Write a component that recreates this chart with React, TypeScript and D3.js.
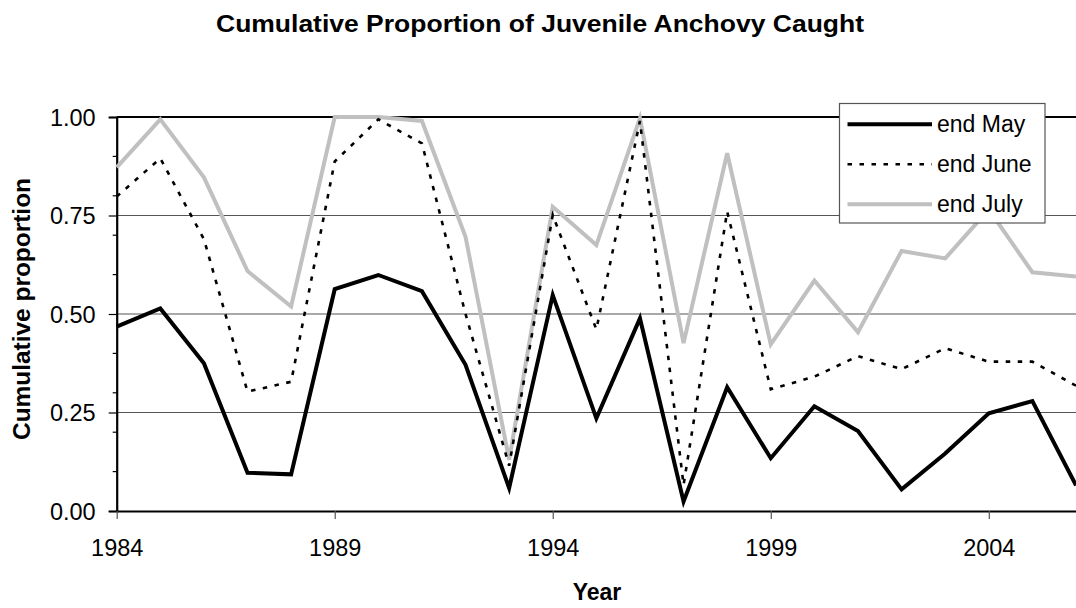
import React, { useEffect, useRef } from 'react';
import * as d3 from 'd3';

const years = d3.range(1984, 2007);

const endMay = [0.468, 0.514, 0.375, 0.097, 0.093, 0.563, 0.599, 0.558, 0.371, 0.058, 0.548, 0.235,
  0.489, 0.024, 0.314, 0.134, 0.266, 0.203, 0.055, 0.146, 0.248, 0.279, 0.065];
const endJune = [0.798, 0.895, 0.69, 0.303, 0.328, 0.887, 0.994, 0.933, 0.5, 0.115, 0.751, 0.461,
  0.99, 0.066, 0.76, 0.309, 0.341, 0.393, 0.36, 0.413, 0.379, 0.379, 0.318];
const endJuly = [0.872, 0.994, 0.847, 0.609, 0.519, 1.0, 1.0, 0.99, 0.696, 0.13, 0.772, 0.675,
  0.997, 0.426, 0.908, 0.423, 0.585, 0.454, 0.66, 0.641, 0.765, 0.606, 0.595];

const yTicks = [0, 0.25, 0.5, 0.75, 1.0];
const yMinorTicks = [0.1, 0.2, 0.3, 0.4, 0.6, 0.7, 0.8, 0.9];
const xTicks = [1984, 1989, 1994, 1999, 2004];

const seriesNames = ['end May', 'end June', 'end July'];

const App = () => {
  const svgRef = useRef<SVGSVGElement>(null);

  useEffect(() => {
    const width = 1076;
    const height = 608;
    const left = 116.7;
    const top = 117;
    const bottom = 511;
    const font = 'Arial, "Liberation Sans", sans-serif';

    const svg = d3.select(svgRef.current)
      .attr('width', width)
      .attr('height', height);
    svg.selectAll('*').remove();

    const x = d3.scaleLinear().domain([1984, 2006]).range([left, 1076]);
    const y = d3.scaleLinear().domain([0, 1]).range([bottom, top]);

    svg.append('rect').attr('width', width).attr('height', height).attr('fill', '#fff');

    // gridlines
    svg.append('g')
      .selectAll('line')
      .data(yTicks.slice(1, 4))
      .join('line')
      .attr('x1', left).attr('x2', width)
      .attr('y1', d => y(d)).attr('y2', d => y(d))
      .attr('stroke', '#555').attr('stroke-width', 1.2);

    // top border
    svg.append('line')
      .attr('x1', left).attr('x2', width)
      .attr('y1', y(1)).attr('y2', y(1))
      .attr('stroke', '#000').attr('stroke-width', 2);

    // y axis
    const yAxis = svg.append('g')
      .attr('transform', `translate(${left},0)`)
      .call(d3.axisLeft(y).tickValues(yTicks).tickFormat(d3.format('.2f')).tickSize(8).tickPadding(13));
    yAxis.select('.domain').attr('stroke-width', 2.2);
    yAxis.selectAll('line').attr('stroke-width', 1.2);
    yAxis.selectAll('text').attr('font-family', font).attr('font-size', 23.5).attr('fill', '#000').attr('dy', '0.36em');

    svg.append('g')
      .selectAll('line')
      .data(yMinorTicks)
      .join('line')
      .attr('x1', left - 4).attr('x2', left)
      .attr('y1', d => y(d)).attr('y2', d => y(d))
      .attr('stroke', '#000').attr('stroke-width', 1.2);

    // x axis
    const xAxis = svg.append('g')
      .attr('transform', `translate(0,${bottom})`)
      .call(d3.axisBottom(x).tickValues(xTicks).tickFormat(d3.format('d')).tickSize(8).tickPadding(20).tickSizeOuter(0));
    xAxis.select('.domain').attr('stroke-width', 2.2);
    xAxis.selectAll('line').attr('stroke', '#555').attr('stroke-width', 1.2);
    xAxis.selectAll('text').attr('font-family', font).attr('font-size', 23.5).attr('fill', '#000');

    const line = d3.line<number>()
      .x((_, i) => x(years[i]))
      .y(d => y(d));

    const plot = svg.append('g');
    plot.append('path').datum(endJuly).attr('d', line)
      .attr('fill', 'none').attr('stroke', '#c0c0c0').attr('stroke-width', 4);
    plot.append('path').datum(endJune).attr('d', line)
      .attr('fill', 'none').attr('stroke', '#000').attr('stroke-width', 2.6).attr('stroke-dasharray', '4.5 7.5');
    plot.append('path').datum(endMay).attr('d', line)
      .attr('fill', 'none').attr('stroke', '#000').attr('stroke-width', 4);

    // legend
    const lg = svg.append('g');
    lg.append('rect')
      .attr('x', 839.5).attr('y', 103.5).attr('width', 205.5).attr('height', 119.5)
      .attr('fill', '#fff').attr('stroke', '#555').attr('stroke-width', 1.2);
    const styles = [
      { stroke: '#000', w: 4, dash: null },
      { stroke: '#000', w: 2.6, dash: '4.5 7.5' },
      { stroke: '#c0c0c0', w: 4, dash: null },
    ];
    seriesNames.forEach((name, i) => {
      const ly = 124.3 + i * 40;
      lg.append('line')
        .attr('x1', 847.5).attr('x2', 932).attr('y1', ly).attr('y2', ly)
        .attr('stroke', styles[i].stroke).attr('stroke-width', styles[i].w)
        .attr('stroke-dasharray', styles[i].dash);
      lg.append('text')
        .attr('x', 937).attr('y', ly + 8)
        .attr('font-family', font).attr('font-size', 23)
        .text(name);
    });

    // titles
    svg.append('text')
      .attr('x', 540).attr('y', 32)
      .attr('text-anchor', 'middle')
      .attr('font-family', font).attr('font-size', 24).attr('font-weight', 'bold')
      .attr('textLength', 648).attr('lengthAdjust', 'spacingAndGlyphs')
      .text('Cumulative Proportion of Juvenile Anchovy Caught');

    svg.append('text')
      .attr('x', 597).attr('y', 600)
      .attr('text-anchor', 'middle')
      .attr('font-family', font).attr('font-size', 23).attr('font-weight', 'bold')
      .text('Year');

    svg.append('text')
      .attr('transform', 'rotate(-90)')
      .attr('x', -309).attr('y', 30)
      .attr('text-anchor', 'middle')
      .attr('font-family', font).attr('font-size', 23).attr('font-weight', 'bold')
      .attr('textLength', 262).attr('lengthAdjust', 'spacingAndGlyphs')
      .text('Cumulative proportion');
  }, []);

  return <svg ref={svgRef} style={{ position: 'absolute', left: 0, top: 0 }}></svg>;
};

export default App;
